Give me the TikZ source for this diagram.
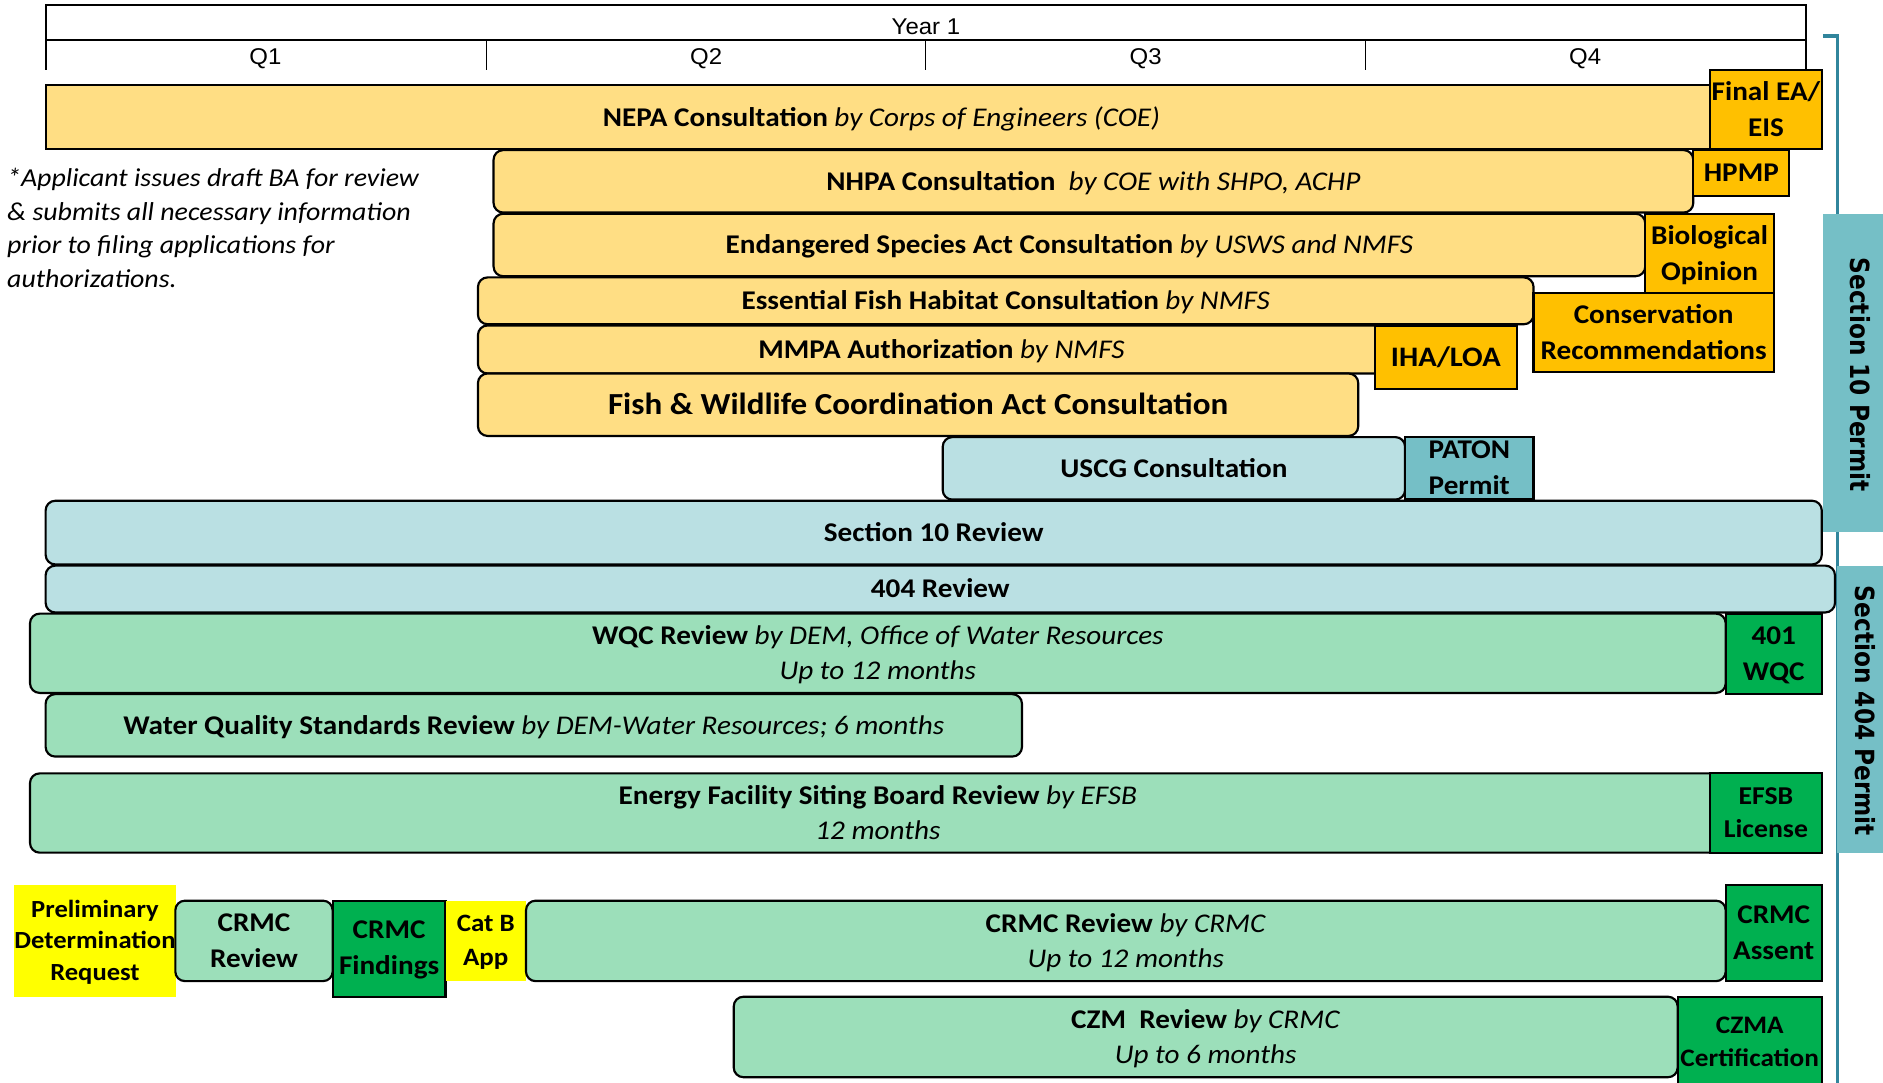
\documentclass[tikz,border=0pt]{standalone}
\usepackage{fontspec}
\setmainfont{Carlito}[FakeStretch=1.08]
\newfontfamily\hdrfont{Liberation Sans}[FakeStretch=1.05]
\newfontfamily\sidefont{DejaVu Sans}[FakeStretch=0.88]
\definecolor{goldlt}{HTML}{FFDE84}
\definecolor{amber}{HTML}{FFC000}
\definecolor{bluelt}{HTML}{BAE0E3}
\definecolor{tealmd}{HTML}{75BFC6}
\definecolor{greenlt}{HTML}{9CDFBA}
\definecolor{greendk}{HTML}{00B050}
\definecolor{yel}{HTML}{FFFF00}
\definecolor{bracket}{HTML}{31859C}
\tikzset{
  base/.style={inner sep=0pt, outer sep=0pt, anchor=north west, align=center,
    text depth=1pt, font=\fontsize{22.5}{29}\selectfont},
  sz/.style 2 args={minimum width=#1pt, minimum height=#2pt},
  bar/.style={base, draw=black, line width=1.8pt, rounded corners=8pt},
  sqbar/.style={base, draw=black, line width=1.8pt},
  res/.style={base, draw=black, line width=1.8pt, font=\fontsize{22.5}{30}\selectfont\bfseries},
  gbar/.style={bar, fill=goldlt},
  bbar/.style={bar, fill=bluelt},
  grbar/.style={bar, fill=greenlt},
  side/.style={inner sep=0pt, outer sep=0pt, anchor=north west, fill=tealmd},
  sidetext/.style={rotate=-90, font=\sidefont\fontsize{22}{26}\selectfont\bfseries},
  hdr/.style={font=\hdrfont\fontsize{19}{22}\selectfont, inner sep=0pt},
}
\begin{document}
\begin{tikzpicture}[x=1pt,y=-1pt]
\useasboundingbox (0,0) rectangle (1568,901);
\clip (0,0) rectangle (1568,901);
\fill[white] (0,0) rectangle (1568,901);

% header
\draw[line width=1.8pt] (38,58) -- (38,4) -- (1504,4) -- (1504,60);
\draw[line width=1.8pt] (38,33) -- (1504,33);
\draw[line width=0.9pt] (405,33) -- (405,58) (771,33) -- (771,58) (1137,33) -- (1137,58);
\node[hdr] (year) at (771,22) {Year 1};
\node[hdr] (q1) at (221,49) {Q1};
\node[hdr] (q2) at (588,49) {Q2};
\node[hdr] (q3) at (954,49) {Q3};
\node[hdr] (q4) at (1320,49) {Q4};

% bracket
\draw[bracket, line width=3pt] (1518,30) -- (1530,30) -- (1530,905);

% side labels
\node[side, sz={50}{265}] (s10p) at (1518,178) {};
\node[sidetext] (s10t) at (1549,312) {Section 10 Permit};
\node[side, sz={40}{239}] (s404p) at (1530,471) {};
\node[sidetext] (s404t) at (1553,592) {Section 404 Permit};

% note
\node[base, anchor=north west, align=left, text depth=, font=\fontsize{21.5}{28}\selectfont\itshape] (note) at (6,140)
 {*Applicant issues draft BA for review\\\& submits all necessary information\\prior to filing applications for\\authorizations.};

% gold bars
\node[sqbar, fill=goldlt, sz={1392}{53}] (nepa) at (38,71) {\textbf{NEPA Consultation} \textit{by Corps of Engineers (COE)}};
\node[gbar, sz={999}{52}] (nhpa) at (411,125) {\textbf{NHPA Consultation} \ \textit{by COE with SHPO, ACHP}};
\node[gbar, sz={959}{52}] (esa) at (411,178) {\textbf{Endangered Species Act Consultation} \textit{by USWS and NMFS}};
\node[gbar, sz={879}{39}] (efh) at (398,231) {\textbf{Essential Fish Habitat Consultation} \textit{by NMFS}};
\node[gbar, sz={772}{40}] (mmpa) at (398,271) {\textbf{MMPA Authorization} \textit{by NMFS}};
\node[gbar, sz={733}{52}, font=\fontsize{25.5}{30}\selectfont\bfseries] (fw) at (398,311) {Fish \& Wildlife Coordination Act Consultation};

% gold results
\node[res, fill=amber, sz={93}{66}] (finalea) at (1424,58) {Final EA/\\EIS};
\node[res, fill=amber, sz={80}{38}] (hpmp) at (1410,125) {HPMP};
\node[res, fill=amber, sz={107}{66}] (bio) at (1370,178) {Biological\\Opinion};
\node[res, fill=amber, sz={200}{66}] (cons) at (1277,244) {Conservation\\Recommendations};
\node[res, fill=amber, sz={118}{53}, font=\fontsize{23.5}{28}\selectfont\bfseries] (iha) at (1145,271) {IHA/LOA};

% blue bars
\node[bbar, sz={385}{52}] (uscg) at (785,364) {\textbf{USCG Consultation}};
\node[res, fill=tealmd, sz={107}{52}] (paton) at (1170,364) {PATON\\Permit};
\node[bbar, sz={1479}{53}] (s10r) at (38,417) {\textbf{Section 10 Review}};
\node[bbar, sz={1490}{39}] (r404) at (38,471) {\textbf{404 Review}};

% green bars
\node[grbar, sz={1412}{66}] (wqc) at (25,511) {\textbf{WQC Review} \textit{by DEM, Office of Water Resources}\\\textit{Up to 12 months}};
\node[res, fill=greendk, sz={80}{67}] (w401) at (1437,511) {401\\WQC};
\node[grbar, sz={813}{52}] (wqs) at (38,578) {\textbf{Water Quality Standards Review} \textit{by DEM-Water Resources; 6 months}};
\node[grbar, sz={1412}{66}] (efsb) at (25,644) {\textbf{Energy Facility Siting Board Review} \textit{by EFSB}\\\textit{12 months}};
\node[res, fill=greendk, sz={93}{66}, font=\fontsize{21.4}{27}\selectfont\bfseries] (lic) at (1424,644) {EFSB\\License};

% CRMC row
\node[base, fill=yel, sz={133}{93}, font=\fontsize{20.5}{26.5}\selectfont\bfseries] (pdr) at (12,737) {Preliminary\\Determination\\Request};
\node[grbar, sz={131}{67}, font=\fontsize{22.5}{30}\selectfont\bfseries] (crmcs) at (146,750) {CRMC\\Review};
\node[res, fill=greendk, sz={94}{80}] (find) at (277,750) {CRMC\\Findings};
\node[base, fill=yel, sz={67}{67}, font=\fontsize{20.8}{28}\selectfont\bfseries] (catb) at (371,750) {Cat B\\App};
\node[grbar, sz={999}{67}] (crmc) at (438,750) {\textbf{CRMC Review} \textit{by CRMC}\\\textit{Up to 12 months}};
\node[res, fill=greendk, sz={80}{80}] (assent) at (1437,737) {CRMC\\Assent};
\node[grbar, sz={786}{67}] (czm) at (611,830) {\textbf{CZM\ \ Review} \textit{by CRMC}\\\textit{Up to 6 months}};
\node[res, fill=greendk, sz={120}{76}, font=\fontsize{21}{28}\selectfont\bfseries] (czma) at (1397,830) {CZMA\\Certification};
\end{tikzpicture}
\end{document}
